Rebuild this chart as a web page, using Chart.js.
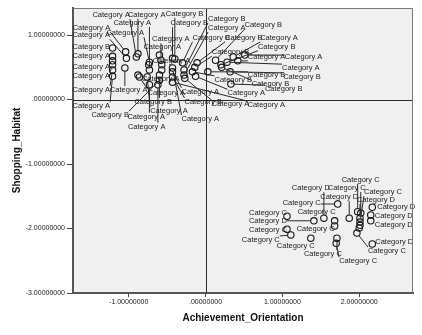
<!DOCTYPE html>
<html>
<head>
<meta charset="utf-8">
<script src="https://cdn.jsdelivr.net/npm/chart.js@4/dist/chart.umd.min.js"></script>
<style>
  html, body { margin: 0; padding: 0; background: #fff; }
</style>
</head>
<body>
<canvas id="scatter" width="422" height="335"></canvas>
<script>
// factor scores per respondent
const achievement = [
  -1.21, -1.21, -1.21, -1.21, -1.21, -1.21, -1.05, -1.04, -1.03, -0.88,
  -0.90, -0.88, -0.86, -0.73, -0.74, -0.73, -0.76, -0.73, -0.60, -0.58,
  -0.57, -0.57, -0.60, -0.60, -0.62, -0.43, -0.40, -0.43, -0.43, -0.43,
  -0.43, -0.30, -0.28, -0.28, -0.27, -0.11, -0.14, -0.17, -0.13, 0.03,
  0.20, 0.21, 0.28, 0.36, 0.42, 0.51, 0.32, 0.33, 0.13,
  1.06, 1.41, 1.06, 1.11, 1.37, 1.54, 1.68, 1.68, 1.72, 1.71,
  1.70, 1.87, 1.98, 2.02, 2.01, 2.01, 2.01, 2.00, 1.97, 2.17,
  2.15, 2.15, 2.17
];
const shopping = [
  0.80, 0.67, 0.60, 0.54, 0.46, 0.36, 0.49, 0.74, 0.64, 0.71,
  0.66, 0.38, 0.35, 0.58, 0.54, 0.46, 0.35, 0.23, 0.69, 0.61,
  0.54, 0.46, 0.38, 0.30, 0.23, 0.64, 0.63, 0.49, 0.43, 0.35,
  0.27, 0.57, 0.46, 0.38, 0.33, 0.57, 0.50, 0.43, 0.36, 0.43,
  0.54, 0.50, 0.58, 0.66, 0.60, 0.69, 0.43, 0.24, 0.61,
  -1.81, -1.88, -2.01, -2.10, -2.15, -1.84, -1.88, -1.96, -1.62, -2.15,
  -2.23, -1.84, -1.74, -1.76, -1.84, -1.90, -1.95, -1.99, -2.07, -1.67,
  -1.79, -1.88, -2.24
];
const groups = [
  "B", "A", "A", "A", "A", "A", "A", "A", "A", "A",
  "A", "A", "A", "A", "A", "A", "A", "A", "A", "A",
  "A", "A", "B", "B", "A", "B", "B", "A", "A", "B",
  "A", "B", "B", "A", "A", "B", "B", "B", "A", "B",
  "B", "B", "A", "A", "A", "A", "B", "B", "B",
  "C", "D", "C", "C", "C", "D", "C", "C", "C", "C",
  "C", "D", "C", "C", "D", "C", "D", "C", "C", "D",
  "D", "D", "D"
].map((g) => "Category " + g);

const xTickValues = [-1, 0, 1, 2];
const yTickValues = [-3, -2, -1, 0, 1];

// where each case label sits relative to its point (px), null = label dropped
const labelNudge = [
  [-40, -1], [-40, 0], [-40, 6], [-40, 11], [-40, 20], [-40, 30], [-15, 22], [-53, -24], [-54, -23], [-10, -39],
  [-44, -42], [4, 4], [8, 16], [-43, -29], [4, -4], [-36, -47], [3, 34], [-22, 32], [-16, -8], [-9, -21],
  null, null, [-25, 27], [-68, 35], [-30, 42], [-2, -35], [-9, -45], [9, 51], [9, 20], [12, 25],
  [75, 23], [10, -25], [24, -51], [24, -47], [27, 26], [28, -25], [17, -15], [22, 8], [32, 17], [40, 3],
  [37, -18], [30, 17], [55, 6], [27, -19], [10, -4], [40, 2], [53, 5], [34, 5], [29, -35],
  [-38, -3], [-65, 0], [-38, 1], [-49, 5], [-34, 8], [-32, -30], [-37, -9], [-38, 3], [-55, -1], [-33, 16],
  [3, 18], [-29, -21], [-16, -32], [-33, -25], [-3, -18], [4, -30], null, null, [11, 18], [5, 0],
  [4, 1], [4, 4], [3, -2]
];

const fontFamily = "Arial, 'Liberation Sans', sans-serif";

function spssNumber(v) {
  let s = Math.abs(v).toFixed(8);
  if (s.startsWith("0")) s = s.slice(1);
  return (v < 0 ? "-" : "") + s;
}

const plotFrame = {
  id: "plotFrame",
  beforeDraw(chart) {
    const { ctx, chartArea: a } = chart;
    ctx.save();
    ctx.fillStyle = "#f0f0f0";
    ctx.fillRect(a.left, a.top, a.right - a.left, a.bottom - a.top);
    ctx.restore();
  },
  beforeDatasetsDraw(chart) {
    // reference lines through the origin
    const { ctx, chartArea: a, scales } = chart;
    const x0 = Math.round(scales.x.getPixelForValue(0)) + 0.5;
    const y0 = Math.round(scales.y.getPixelForValue(0)) + 0.5;
    ctx.save();
    ctx.strokeStyle = "#2a2a2a";
    ctx.lineWidth = 1;
    ctx.beginPath();
    ctx.moveTo(x0, a.top);
    ctx.lineTo(x0, a.bottom);
    ctx.moveTo(a.left, y0);
    ctx.lineTo(a.right, y0);
    ctx.stroke();
    ctx.restore();
  },
  afterDatasetsDraw(chart) {
    const { ctx } = chart;
    const meta = chart.getDatasetMeta(0);
    ctx.save();
    ctx.font = "7.5px " + fontFamily;
    ctx.textBaseline = "middle";
    ctx.textAlign = "left";
    meta.data.forEach((pt, i) => {
      const nudge = labelNudge[i];
      if (!nudge) return;
      const text = groups[i];
      const w = ctx.measureText(text).width;
      const lx = pt.x + nudge[0];
      const ly = pt.y + nudge[1];
      // leader line when the label sits away from its point
      const nx = Math.max(lx, Math.min(pt.x, lx + w));
      const ny = Math.max(ly - 4, Math.min(pt.y, ly + 4));
      const d = Math.hypot(nx - pt.x, ny - pt.y);
      if (d > 7) {
        const sx = pt.x + ((nx - pt.x) / d) * 3;
        const sy = pt.y + ((ny - pt.y) / d) * 3;
        ctx.strokeStyle = "#2a2a2a";
        ctx.lineWidth = 1;
        ctx.beginPath();
        ctx.moveTo(sx, sy);
        ctx.lineTo(nx, ny);
        ctx.stroke();
      }
      ctx.fillStyle = "#1a1a1a";
      ctx.fillText(text, lx, ly);
    });
    ctx.restore();
  },
  afterDraw(chart) {
    const { ctx, chartArea: a } = chart;
    ctx.save();
    ctx.strokeStyle = "#7a7a7a";
    ctx.lineWidth = 1;
    ctx.beginPath();
    ctx.moveTo(a.left, a.top + 0.5);
    ctx.lineTo(a.right - 0.5, a.top + 0.5);
    ctx.lineTo(a.right - 0.5, a.bottom);
    ctx.stroke();
    ctx.restore();
  },
};

new Chart(document.getElementById("scatter"), {
  type: "scatter",
  data: {
    datasets: [
      {
        data: achievement.map((x, i) => ({ x: x, y: shopping[i] })),
        pointRadius: 3.2,
        pointHoverRadius: 3.2,
        borderWidth: 1.1,
        borderColor: "#151515",
        backgroundColor: "rgba(0,0,0,0)",
      },
    ],
  },
  options: {
    responsive: false,
    animation: false,
    layout: { padding: { top: 8, right: 9, left: 0, bottom: 0 } },
    plugins: {
      legend: { display: false },
      tooltip: { enabled: false },
    },
    scales: {
      x: {
        type: "linear",
        position: "bottom",
        min: -1.725,
        max: 2.7,
        afterBuildTicks: (s) => {
          s.ticks = xTickValues.map((v) => ({ value: v }));
        },
        afterFit: (s) => {
          s.height = 42;
        },
        grid: { drawOnChartArea: false, drawTicks: true, tickLength: 4, color: "#444" },
        border: { color: "#555", width: 2 },
        ticks: {
          font: { size: 7, family: fontFamily },
          color: "#222",
          padding: 1,
          maxRotation: 0,
          autoSkip: false,
          callback: (v) => spssNumber(v),
        },
        title: {
          display: true,
          text: "Achievement_Orientation",
          font: { size: 10, weight: "bold", family: fontFamily },
          color: "#111",
          padding: { top: 0, bottom: 11 },
        },
      },
      y: {
        type: "linear",
        position: "left",
        min: -3,
        max: 1.42,
        afterBuildTicks: (s) => {
          s.ticks = yTickValues.map((v) => ({ value: v }));
        },
        afterFit: (s) => {
          s.width = 73;
        },
        grid: { drawOnChartArea: false, drawTicks: true, tickLength: 6, color: "#444" },
        border: { color: "#555", width: 2 },
        ticks: {
          font: { size: 7, family: fontFamily },
          color: "#222",
          padding: 2,
          autoSkip: false,
          callback: (v) => spssNumber(v),
        },
        title: {
          display: true,
          text: "Shopping_Habitat",
          font: { size: 10, weight: "bold", family: fontFamily },
          color: "#111",
          padding: { top: 11, bottom: 0 },
        },
      },
    },
  },
  plugins: [plotFrame],
});
</script>
</body>
</html>
